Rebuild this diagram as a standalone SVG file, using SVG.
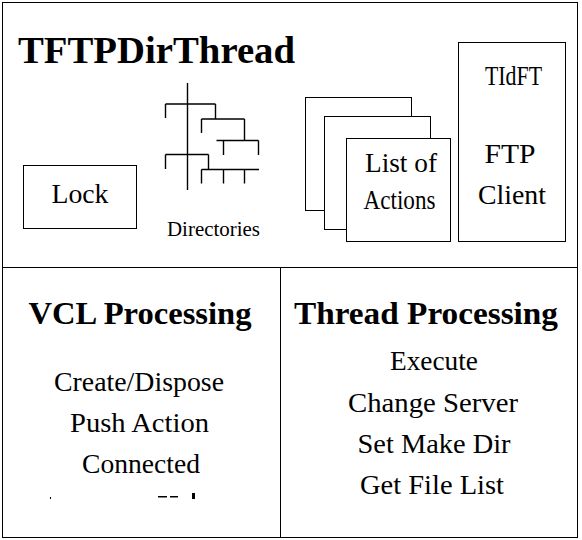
<svg xmlns="http://www.w3.org/2000/svg" width="582" height="540" viewBox="0 0 582 540">
  <style>
    .ln { fill: none; stroke: #000; stroke-width: 1; }
    .tree { fill: none; stroke: #000; stroke-width: 1.4; }
    .box { fill: #fff; stroke: #000; stroke-width: 1; }
    .t { font-size: 27px; text-anchor: middle; fill: #000; }
    .h { font-size: 32px; font-weight: bold; text-anchor: middle; fill: #000; }
    .sm { font-size: 20px; text-anchor: middle; fill: #000; }
  </style>
  <rect x="0" y="0" width="582" height="540" fill="#fff"/>
  <g id="frame">
    <rect class="ln" x="2.5" y="2.5" width="575" height="535"/>
    <line class="ln" x1="2.5" y1="267.5" x2="577.5" y2="267.5"/>
    <line class="ln" x1="280.5" y1="267.5" x2="280.5" y2="537.5"/>
  </g>
  <g font-family="Liberation Serif, serif">
  <g id="title">
    <text x="18" y="63" font-size="38" font-weight="bold" textLength="277" lengthAdjust="spacingAndGlyphs">TFTPDirThread</text>
  </g>
  <g id="lock">
    <rect class="box" x="23.5" y="165.5" width="113" height="63"/>
    <text class="t" x="80" y="203" textLength="57" lengthAdjust="spacingAndGlyphs">Lock</text>
  </g>
  <g id="directories">
    <path class="tree" d="M187.5,83 V190 M165.5,104 H215.5 M165.5,104 V118 M215.5,104 V119 M201.5,119 H244.5 M201.5,119 V133 M244.5,119 V140 M216.5,140.5 H258.5 M223.5,140.5 V155 M258.5,140.5 V155 M165.5,154.5 H208.5 M165.5,154.5 V169 M208.5,154.5 V169.5 M201.5,169.5 H259 M201.5,169.5 V183.5 M223.5,169.5 V183.5 M244.5,169.5 V183.5"/>
    <text class="sm" x="213.5" y="236" textLength="93" lengthAdjust="spacingAndGlyphs">Directories</text>
  </g>
  <g id="list-of-actions">
    <rect class="box" x="305.5" y="97.5" width="106" height="113"/>
    <rect class="box" x="324.5" y="116.5" width="106" height="113"/>
    <rect class="box" x="346.5" y="138.5" width="104" height="103"/>
    <text class="t" x="401" y="172" font-size="24" textLength="72" lengthAdjust="spacingAndGlyphs">List of</text>
    <text class="t" x="399.5" y="209" font-size="24" textLength="72" lengthAdjust="spacingAndGlyphs">Actions</text>
  </g>
  <g id="tidft">
    <rect class="box" x="458.5" y="42.5" width="107" height="199"/>
    <text class="t" x="513.5" y="85" font-size="23" textLength="57" lengthAdjust="spacingAndGlyphs">TIdFT</text>
    <text class="t" x="510" y="163" textLength="51" lengthAdjust="spacingAndGlyphs">FTP</text>
    <text class="t" x="512" y="204" textLength="68" lengthAdjust="spacingAndGlyphs">Client</text>
  </g>
  <g id="vcl-processing">
    <text class="h" x="140" y="324" textLength="223" lengthAdjust="spacingAndGlyphs">VCL Processing</text>
    <text class="t" x="139" y="391" textLength="170" lengthAdjust="spacingAndGlyphs">Create/Dispose</text>
    <text class="t" x="139.5" y="432" textLength="139" lengthAdjust="spacingAndGlyphs">Push Action</text>
    <text class="t" x="141" y="473" textLength="118" lengthAdjust="spacingAndGlyphs">Connected</text>
    <rect x="50" y="497" width="1" height="2" fill="#000"/>
    <rect x="158" y="496" width="9" height="1.5" fill="#000"/>
    <rect x="170" y="496" width="8" height="1.5" fill="#000"/>
    <rect x="192" y="493" width="3" height="6" fill="#000"/>
  </g>
  <g id="thread-processing">
    <text class="h" x="426" y="324" textLength="264" lengthAdjust="spacingAndGlyphs">Thread Processing</text>
    <text class="t" x="434" y="370" textLength="88" lengthAdjust="spacingAndGlyphs">Execute</text>
    <text class="t" x="433" y="412" textLength="170" lengthAdjust="spacingAndGlyphs">Change Server</text>
    <text class="t" x="434" y="453" textLength="153" lengthAdjust="spacingAndGlyphs">Set Make Dir</text>
    <text class="t" x="432" y="494" textLength="144" lengthAdjust="spacingAndGlyphs">Get File List</text>
  </g>
  </g>
  <g id="connectors"></g>
</svg>
